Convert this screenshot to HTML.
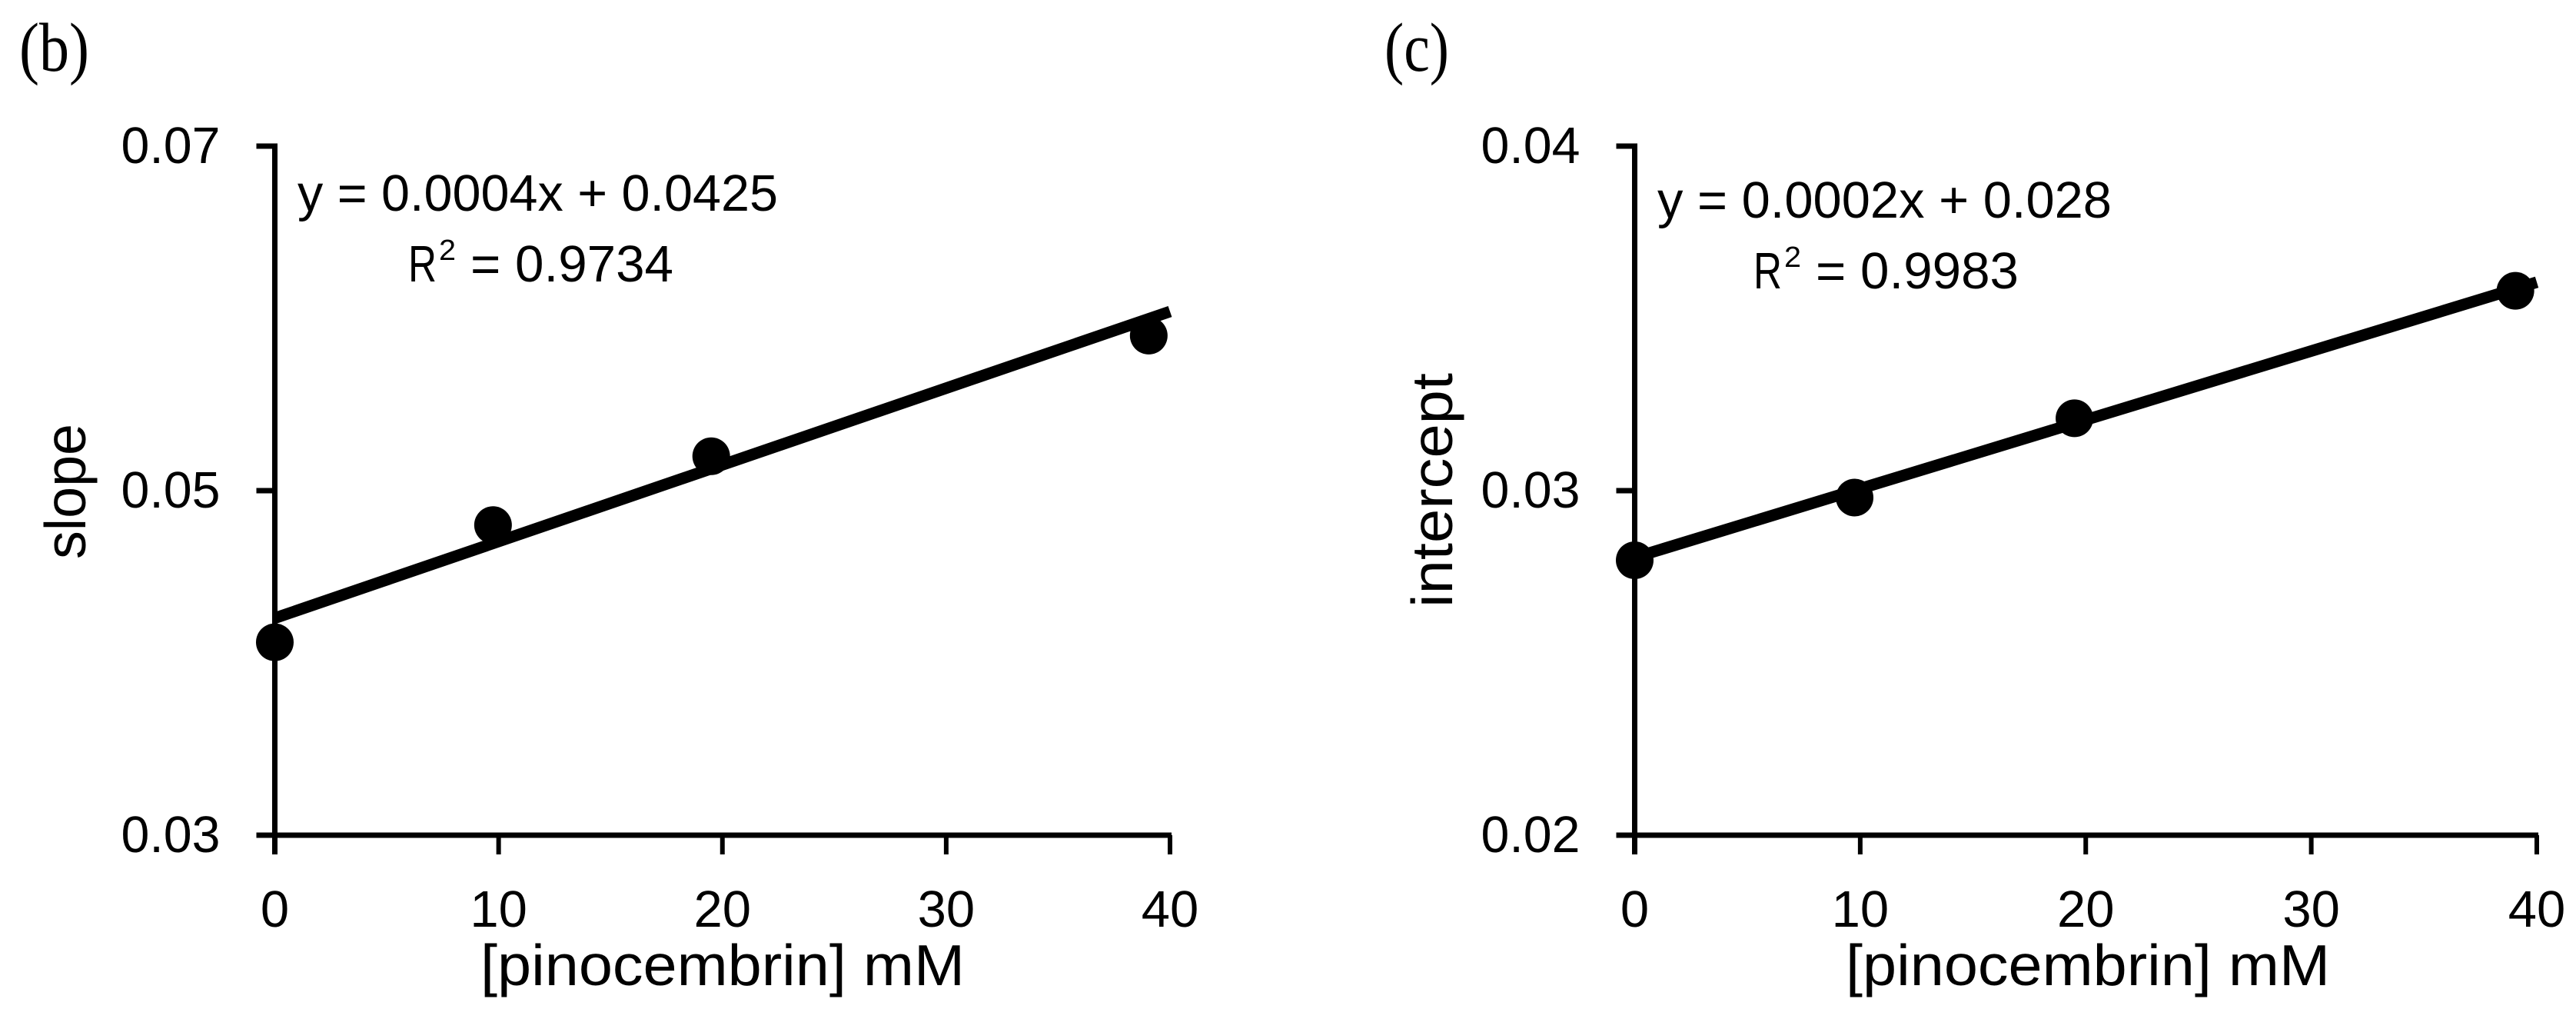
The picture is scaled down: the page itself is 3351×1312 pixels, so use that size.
<!DOCTYPE html>
<html lang="en">
<head>
<meta charset="utf-8">
<title>Pinocembrin secondary plots</title>
<style>
html,body{margin:0;padding:0;background:#fff;}
svg{display:block;}
text{font-family:"Liberation Sans",sans-serif;fill:#000;}
.panel-tag{font-family:"Liberation Serif",serif;font-size:90px;}
</style>
</head>
<body>
<svg id="figure" xmlns="http://www.w3.org/2000/svg" width="3351" height="1312" viewBox="0 0 3351 1312">
  <rect x="0" y="0" width="3351" height="1312" fill="#fff"/>

  <text class="panel-tag" x="25" y="92" textLength="91" lengthAdjust="spacingAndGlyphs">(b)</text>
  <text class="panel-tag" x="1801" y="92" textLength="84" lengthAdjust="spacingAndGlyphs">(c)</text>

  <g id="chart-b"></g>
  <g id="chart-c"></g>

  <text x="387" y="274" font-size="67" textLength="625" lengthAdjust="spacingAndGlyphs">y = 0.0004x + 0.0425</text>
  <g font-size="67">
    <text x="531" y="366" textLength="37" lengthAdjust="spacingAndGlyphs">R</text>
    <text x="571" y="338" font-size="38" textLength="22" lengthAdjust="spacingAndGlyphs">2</text>
    <text x="612" y="366" textLength="264" lengthAdjust="spacingAndGlyphs">= 0.9734</text>
  </g>
  <text x="2156" y="283" font-size="67" textLength="591" lengthAdjust="spacingAndGlyphs">y = 0.0002x + 0.028</text>
  <g font-size="67">
    <text x="2281" y="375" textLength="37" lengthAdjust="spacingAndGlyphs">R</text>
    <text x="2321" y="347" font-size="38" textLength="22" lengthAdjust="spacingAndGlyphs">2</text>
    <text x="2362" y="375" textLength="264" lengthAdjust="spacingAndGlyphs">= 0.9983</text>
  </g>

  <text x="625" y="1281" font-size="75" textLength="630" lengthAdjust="spacingAndGlyphs">[pinocembrin] mM</text>
  <text x="2401" y="1281" font-size="75" textLength="630" lengthAdjust="spacingAndGlyphs">[pinocembrin] mM</text>
  <text transform="translate(111 727) rotate(-90)" font-size="75" textLength="176" lengthAdjust="spacingAndGlyphs">slope</text>
  <text transform="translate(1889 790) rotate(-90)" font-size="75" textLength="305" lengthAdjust="spacingAndGlyphs">intercept</text>
</svg>
<script>
const xTickValues = [0, 10, 20, 30, 40];
const concentration = [0, 9.75, 19.5, 39.05];
const fitX = [0, 40];

const slopeValues = [0.0412, 0.048, 0.052, 0.059];
const slopeFit = [0.0426, 0.0604];
const slopeYTicks = [0.03, 0.05, 0.07];

const interceptValues = [0.02798, 0.0298, 0.0321, 0.0358];
const interceptFit = [0.02806, 0.03605];
const interceptYTicks = [0.02, 0.03, 0.04];

const NS = 'http://www.w3.org/2000/svg';

function addSvg(parent, tag, attrs, text) {
  const el = document.createElementNS(NS, tag);
  Object.keys(attrs).forEach(function (k) { el.setAttribute(k, attrs[k]); });
  if (text !== undefined) el.textContent = text;
  parent.appendChild(el);
  return el;
}

function drawChart(root, left, right, yTicks, xs, ys, fitYs) {
  const top = 190, bottom = 1086;
  const yMin = yTicks[0], yMax = yTicks[yTicks.length - 1];
  const xMax = xTickValues[xTickValues.length - 1];
  const sx = function (v) { return left + (v / xMax) * (right - left); };
  const sy = function (v) { return bottom - ((v - yMin) / (yMax - yMin)) * (bottom - top); };

  const yAxis = addSvg(root, 'line', { x1: left, x2: left, y1: top - 3.5, y2: bottom + 25, stroke: '#000', 'stroke-width': 7 });
  
  

  const xAxis = addSvg(root, 'line', { x1: left - 24, x2: right + 2, y1: bottom, y2: bottom, stroke: '#000', 'stroke-width': 7 });
  
  

  yTicks.forEach(function (v) {
    const tick = addSvg(root, 'line', { x1: left - 24, x2: left, y1: sy(v), y2: sy(v), stroke: '#000', 'stroke-width': 7 });
    
    
    const label = addSvg(root, 'text', { x: left - 71, y: sy(v) + 22, 'font-size': 67, 'text-anchor': 'end', textLength: 129, lengthAdjust: 'spacingAndGlyphs' }, v.toFixed(2));
    
    
  });

  xTickValues.forEach(function (v) {
    const tick = addSvg(root, 'line', { x1: sx(v), x2: sx(v), y1: bottom, y2: bottom + 25, stroke: '#000', 'stroke-width': 6 });
    
    
    const label = addSvg(root, 'text', { x: sx(v), y: 1205, 'font-size': 67, 'text-anchor': 'middle' }, String(v));
    
    
  });

  const fit = addSvg(root, 'line', { x1: sx(fitX[0]), y1: sy(fitYs[0]), x2: sx(fitX[1]), y2: sy(fitYs[1]), stroke: '#000', 'stroke-width': 15 });
  
  

  xs.forEach(function (x, i) {
    const pt = addSvg(root, 'circle', { cx: sx(x), cy: sy(ys[i]), r: 24.5, fill: '#000' });
    
    
  });
}

drawChart(document.getElementById('chart-b'), 357.5, 1522, slopeYTicks, concentration, slopeValues, slopeFit);
drawChart(document.getElementById('chart-c'), 2126.5, 3300, interceptYTicks, concentration, interceptValues, interceptFit);
</script>
</body>
</html>
